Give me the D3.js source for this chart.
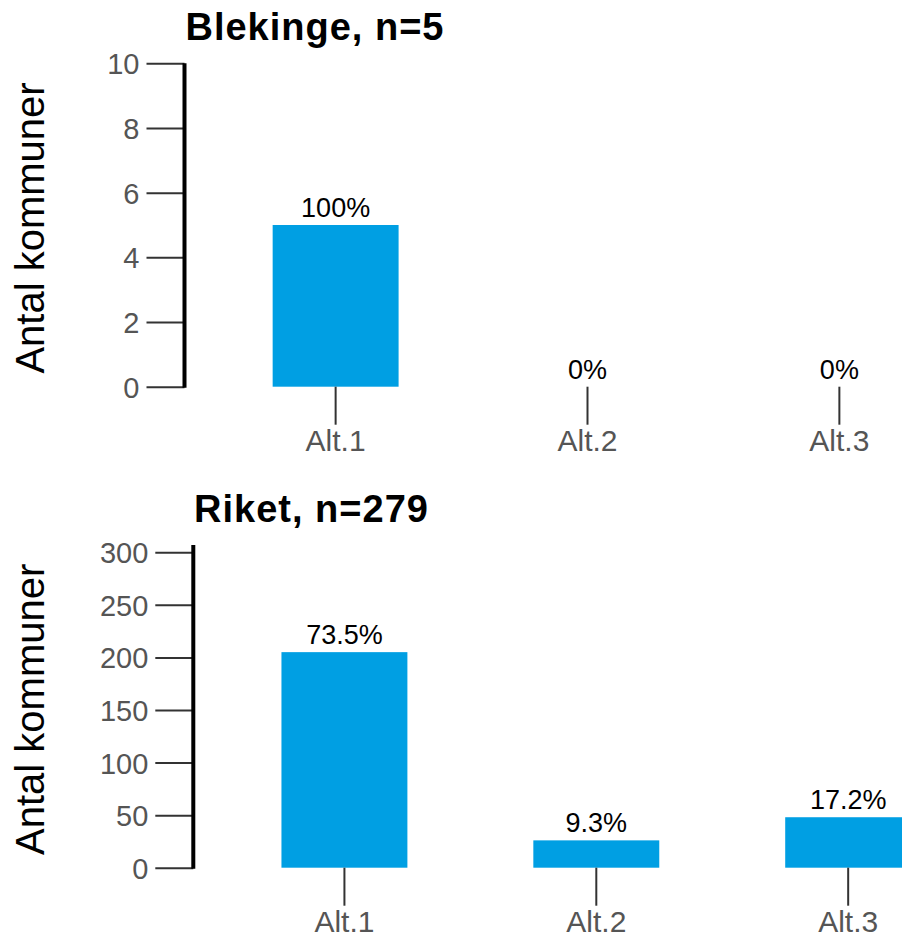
<!DOCTYPE html>
<html>
<head>
<meta charset="utf-8">
<script src="https://cdn.jsdelivr.net/npm/d3@7"></script>
<style>
  body { margin: 0; background: #fff; }
  svg { display: block; font-family: "Liberation Sans", Arial, sans-serif; }
</style>
</head>
<body>
<svg id="chart" width="902" height="939"></svg>
<script>
const categories = ['Alt.1', 'Alt.2', 'Alt.3']

const blekingeCounts = [5, 0, 0]
const blekingePct = ['100%', '0%', '0%']
const blekingeTicks = [0, 2, 4, 6, 8, 10]

const riketCounts = [205, 26, 48]
const riketPct = ['73.5%', '9.3%', '17.2%']
const riketTicks = [0, 50, 100, 150, 200, 250, 300]

const barColor = '#009fe3'

const panels = [
  {title: 'Blekinge, n=5', counts: blekingeCounts, pct: blekingePct, ticks: blekingeTicks,
   yMax: 10, axisX: 184.5, top: 63.3, bottom: 386.7, titleX: 315, titleY: 39.5},
  {title: 'Riket, n=279', counts: riketCounts, pct: riketPct, ticks: riketTicks,
   yMax: 279 * 1.1, axisX: 193.3, top: 545, bottom: 867.7, titleX: 311.5, titleY: 521.5}
]

const svg = d3.select('#chart')

panels.forEach(p => {
  let g = svg.append('g')

  let x = d3.scaleBand()
            .domain(categories)
            .range([p.axisX, p.axisX + 806])
            .paddingInner(0.5)
            .paddingOuter(0.35)

  let y = d3.scaleLinear()
            .domain([0, p.yMax])
            .range([p.bottom, p.top])

  let rows = categories.map((c, i) => ({cat: c, n: p.counts[i], pct: p.pct[i]}))

  // bars
  g.selectAll('rect')
   .data(rows)
   .enter()
   .append('rect')
   .attr('x', d => x(d.cat))
   .attr('y', d => y(d.n))
   .attr('width', x.bandwidth())
   .attr('height', d => y(0) - y(d.n))
   .attr('fill', barColor)

  // percent labels
  g.selectAll('text.pct')
   .data(rows)
   .enter()
   .append('text')
   .attr('class', 'pct')
   .attr('x', d => x(d.cat) + x.bandwidth() / 2)
   .attr('y', d => y(d.n) - 8)
   .attr('text-anchor', 'middle')
   .style('font-size', '27px')
   .attr('fill', '#000')
   .text(d => d.pct)

  // y axis
  let yAxis = g.append('g')
               .attr('transform', `translate(${p.axisX},0)`)
               .call(d3.axisLeft(y).tickValues(p.ticks).tickSize(38).tickPadding(7).tickFormat(d3.format('d')))
  yAxis.select('.domain').remove()
  yAxis.selectAll('.tick line').attr('stroke', '#333').attr('stroke-width', 2)
  yAxis.selectAll('.tick text')
       .attr('fill', '#555')
       .style('font-size', '29px')
       .attr('dy', '0.36em')
  yAxis.append('line')
       .attr('x1', 0).attr('x2', 0)
       .attr('y1', p.bottom + 1).attr('y2', p.top)
       .attr('stroke', '#000')
       .attr('stroke-width', 4)

  // x axis, ticks only
  let xAxis = g.append('g')
               .attr('transform', `translate(0,${p.bottom})`)
               .call(d3.axisBottom(x).tickSize(38).tickPadding(5))
  xAxis.select('.domain').remove()
  xAxis.selectAll('.tick line').attr('stroke', '#333').attr('stroke-width', 2)
  xAxis.selectAll('.tick text')
       .attr('fill', '#555')
       .style('font-size', '30px')

  // titles
  g.append('text')
   .attr('x', p.titleX)
   .attr('y', p.titleY)
   .attr('text-anchor', 'middle')
   .style('font-size', '38px')
   .style('font-weight', 'bold')
   .style('letter-spacing', '1px')
   .text(p.title)

  g.append('text')
   .attr('transform', `translate(44,${(p.top + p.bottom) / 2 + 3}) rotate(-90)`)
   .attr('text-anchor', 'middle')
   .style('font-size', '40px')
   .text('Antal kommuner')
})
</script>
</body>
</html>
